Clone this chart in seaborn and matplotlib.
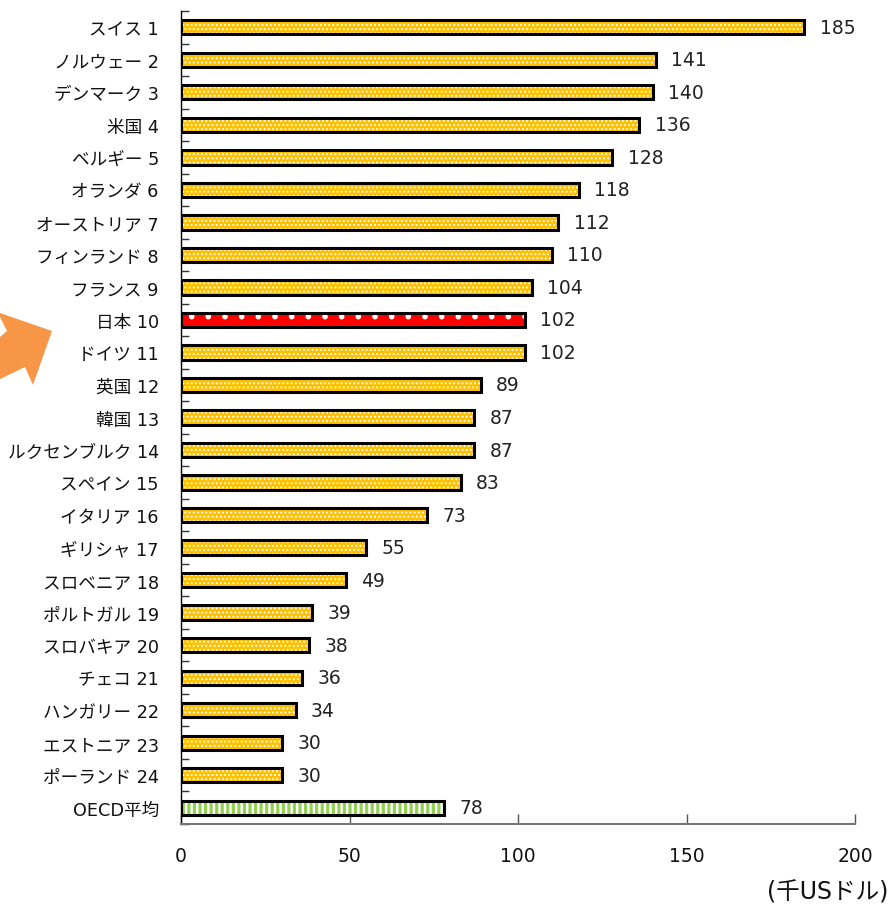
import matplotlib
matplotlib.use("Agg")
import matplotlib.pyplot as plt
from matplotlib.patches import Rectangle, Polygon
import seaborn as sns
import pandas as pd

countries = ["スイス 1", "ノルウェー 2", "デンマーク 3", "米国 4", "ベルギー 5",
             "オランダ 6", "オーストリア 7", "フィンランド 8", "フランス 9", "日本 10",
             "ドイツ 11", "英国 12", "韓国 13", "ルクセンブルク 14", "スペイン 15",
             "イタリア 16", "ギリシャ 17", "スロベニア 18", "ポルトガル 19", "スロバキア 20",
             "チェコ 21", "ハンガリー 22", "エストニア 23", "ポーランド 24", "OECD平均"]
values = [185, 141, 140, 136, 128, 118, 112, 110, 104, 102,
          102, 89, 87, 87, 83, 73, 55, 49, 39, 38,
          36, 34, 30, 30, 78]
x_ticks = [0, 50, 100, 150, 200]
unit_label = "(千USドル)"

sns.set_theme(style="white")
plt.rcParams["font.family"] = ["DejaVu Sans", "Noto Sans CJK JP"]
plt.rcParams["hatch.linewidth"] = 1.0

gold, red, green = "#FFC000", "#FF0000", "#92D050"
colors = [red if c.startswith("日本") else green if c.startswith("OECD") else gold
          for c in countries]
hatches = ["." if c == red else "|||" if c == green else "...." for c in colors]
hatch_widths = [1.6 if c == red else 1.7 if c == green else 0.9 for c in colors]

df = pd.DataFrame({"country": countries, "value": values})

fig = plt.figure(figsize=(8.89, 9.12), dpi=100)
ax = fig.add_axes([0.2036, 0.0954, 0.7582, 0.8914])

sns.barplot(data=df, y="country", x="value", hue="country", palette=colors,
            saturation=1, legend=False, width=0.44, ax=ax, orient="h")

for patch, h, hw in zip(ax.patches, hatches, hatch_widths):
    patch.set_hatch(h)
    if hasattr(patch, "set_hatch_linewidth"):
        patch.set_hatch_linewidth(hw)
    patch.set_edgecolor("white")
    patch.set_linewidth(0)
    x0, y0 = patch.get_xy()
    ax.add_patch(Rectangle((x0, y0), patch.get_width(), patch.get_height(),
                           fill=False, edgecolor="black", linewidth=2.2, zorder=3))
    ax.text(patch.get_width() + 4.5, y0 + patch.get_height() / 2,
            f"{patch.get_width():.0f}", va="center", ha="left", fontsize=13.5,
            color="#222222")

ax.set_xlim(0, 200)
ax.set_ylim(len(countries) - 0.5, -0.5)
ax.set_xticks(x_ticks)
ax.set_xlabel("")
ax.set_ylabel("")

ax.set_yticks([i - 0.5 for i in range(len(countries) + 1)], minor=True)
ax.tick_params(axis="y", which="major", length=0, pad=16, labelsize=12.7,
               labelcolor="#111111")
ax.tick_params(axis="y", which="minor", left=True, direction="in", length=6,
               width=1, color="#333333")
ax.tick_params(axis="x", which="major", bottom=True, direction="in", length=7,
               width=1, color="#555555", pad=16, labelsize=13.5, labelcolor="#111111")

for side in ["top", "right"]:
    ax.spines[side].set_visible(False)
ax.spines["left"].set_color("black")
ax.spines["left"].set_linewidth(1)
ax.spines["bottom"].set_color("#777777")
ax.spines["bottom"].set_linewidth(1.5)

fig.text(0.999, 0.021, unit_label, ha="right", va="center", fontsize=17,
         color="#111111")

# orange arrow pointing at Japan's bar
W, H = 889, 912
arrow_px = [(0, 314), (52, 332), (33, 386), (25, 368), (0, 380), (0, 338),
            (7, 332), (0, 318)]
fig.patches.append(Polygon([(x / W, 1 - y / H) for x, y in arrow_px],
                           closed=True, transform=fig.transFigure,
                           facecolor="#F79646", edgecolor="none"))

fig.savefig("out.png", dpi=100)
